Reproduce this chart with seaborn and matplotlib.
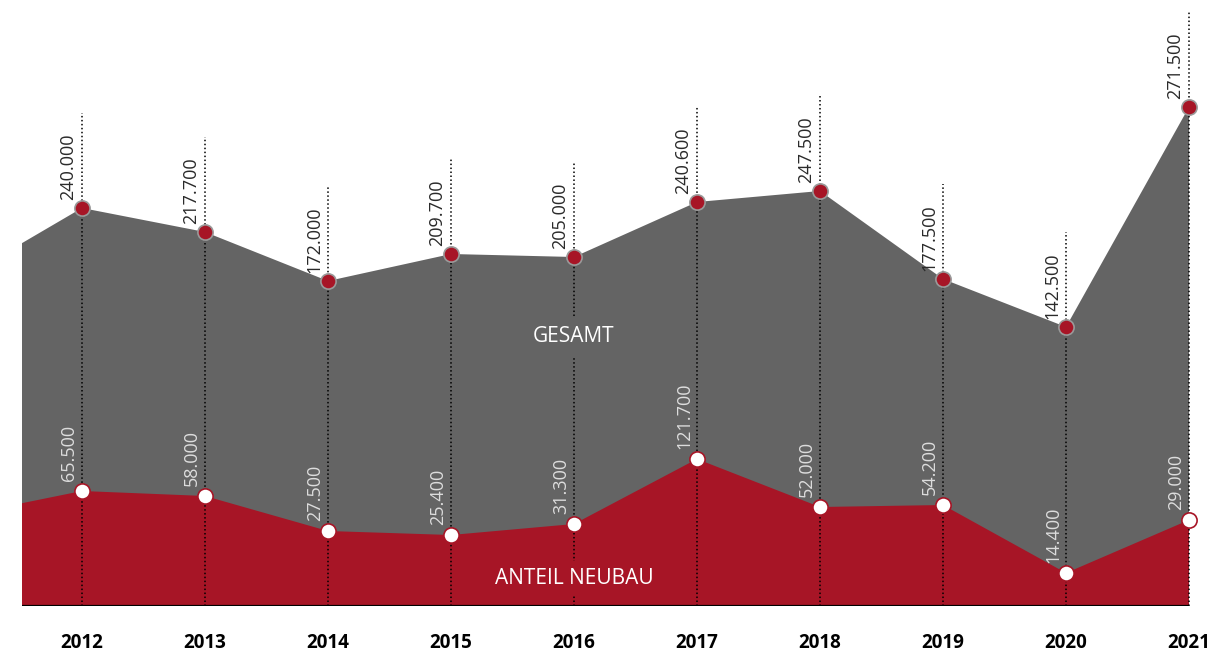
import matplotlib
matplotlib.use("Agg")
import matplotlib.pyplot as plt
import seaborn as sns
import pandas as pd

# ---- data ----
jahre = [2012, 2013, 2014, 2015, 2016, 2017, 2018, 2019, 2020, 2021]
gesamt_label = ["240.000", "217.700", "172.000", "209.700", "205.000",
                "240.600", "247.500", "177.500", "142.500", "271.500"]
neubau_label = ["65.500", "58.000", "27.500", "25.400", "31.300",
                "121.700", "52.000", "54.200", "14.400", "29.000"]
# drawn heights of the two areas (the graphic is not to scale)
gesamt_hoehe = [398, 374, 325, 352, 349, 404, 415, 327, 279, 499]
neubau_hoehe = [115, 110, 75, 71, 82, 147, 99, 101, 33, 86]
# values of the partly visible year at the left edge
rand_jahr = [2011]
rand_gesamt = [326]
rand_neubau = [90]

GRAU = "#646464"
ROT = "#A71526"

sns.set_theme(style="white")
plt.rcParams["font.family"] = ["Open Sans", "DejaVu Sans"]

df = pd.DataFrame({"jahr": jahre, "gesamt": gesamt_hoehe, "neubau": neubau_hoehe})
df_full = pd.DataFrame({"jahr": rand_jahr + jahre,
                        "gesamt": rand_gesamt + gesamt_hoehe,
                        "neubau": rand_neubau + neubau_hoehe})

fig = plt.figure(figsize=(12.11, 6.53), dpi=100)
W, H = 1211, 653
ax = fig.add_axes([22 / W, 47 / H, 1167 / W, 606 / H])
ax.set_xlim(2012 - 60 / 123, 2021)
ax.set_ylim(0, 606)
ax.axis("off")

ax.fill_between(df_full["jahr"], 0, df_full["gesamt"], color=GRAU, lw=0, zorder=1)
ax.fill_between(df_full["jahr"], 0, df_full["neubau"], color=ROT, lw=0, zorder=2)

# dotted guides
for j, g in zip(df["jahr"], df["gesamt"]):
    ax.plot([j, j], [0, g + 95], color="black", lw=1.1, ls=(0, (1, 1.6)),
            zorder=3, clip_on=False)

ax.axhline(0, color="black", lw=1.6, zorder=4)

sns.scatterplot(data=df, x="jahr", y="gesamt", ax=ax, s=120, color=ROT,
                edgecolor="#9a9a9a", linewidth=1.2, zorder=6, clip_on=False, legend=False)
sns.scatterplot(data=df, x="jahr", y="neubau", ax=ax, s=120, color="white",
                edgecolor=ROT, linewidth=1.2, zorder=6, clip_on=False, legend=False)

for j, g, lab in zip(df["jahr"], df["gesamt"], gesamt_label):
    ax.annotate(lab, xy=(j, g), xytext=(-14, 8), textcoords="offset pixels",
                rotation=90, ha="center", va="bottom", fontsize=13,
                color="#2a2a2a", zorder=7)
for j, n, lab in zip(df["jahr"], df["neubau"], neubau_label):
    ax.annotate(lab, xy=(j, n), xytext=(-13, 10), textcoords="offset pixels",
                rotation=90, ha="center", va="bottom", fontsize=13,
                color="#dddddd", zorder=7)

for j in jahre:
    ax.annotate(str(j), xy=(j, 0), xytext=(0, -37), textcoords="offset pixels",
                ha="center", va="center", fontsize=13.5, fontweight="bold",
                color="black", annotation_clip=False)

ax.text(2016, 269, "GESAMT", ha="center", va="center", fontsize=15,
        color="white", zorder=8,
        bbox=dict(facecolor=GRAU, edgecolor="none", pad=6))
ax.text(2016, 28, "ANTEIL NEUBAU", ha="center", va="center", fontsize=15,
        color="white", zorder=8,
        bbox=dict(facecolor=ROT, edgecolor="none", pad=5))

fig.savefig("out.png", dpi=100)
